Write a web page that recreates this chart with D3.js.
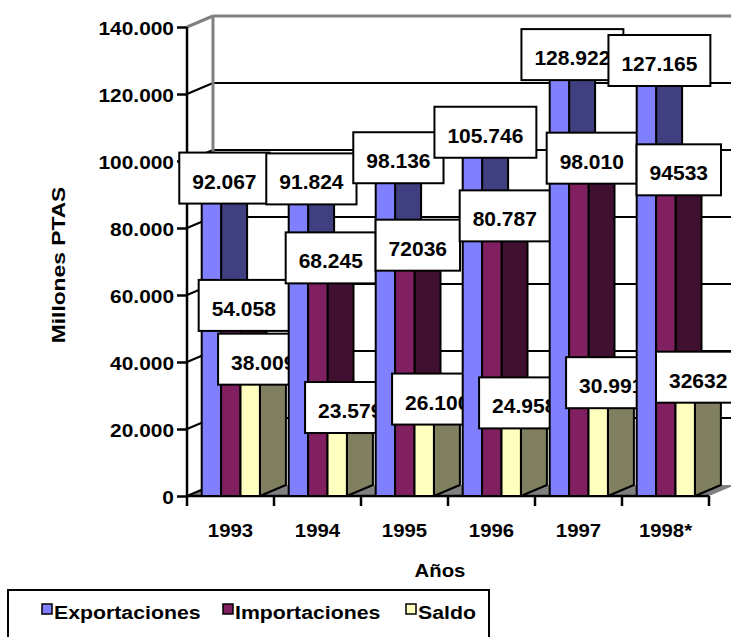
<!DOCTYPE html>
<html><head><meta charset="utf-8">
<script src="https://cdn.jsdelivr.net/npm/d3@7"></script>
<style>body{margin:0;background:#fff}svg{display:block}text{font-family:Arial,"Liberation Sans",Helvetica,sans-serif;font-weight:bold;fill:#000}</style>
</head><body><svg id="c" width="731" height="637"></svg>
<script>
const years = ["1993","1994","1995","1996","1997","1998*"];
const seriesNames = ["Exportaciones","Importaciones","Saldo"];
const exportaciones = [92067, 91824, 98136, 105746, 128922, 127165];
const importaciones = [54058, 68245, 72036, 80787, 98010, 94533];
const saldo = [38009, 23579, 26100, 24958, 30991, 32632];
const exportLabels = ["92.067","91.824","98.136","105.746","128.922","127.165"];
const importLabels = ["54.058","68.245","72036","80.787","98.010","94533"];
const saldoLabels = ["38.009","23.579","26.100","24.958","30.991","32632"];
const yTicks = [0,20000,40000,60000,80000,100000,120000,140000];
const yTickLabels = ["0","20.000","40.000","60.000","80.000","100.000","120.000","140.000"];

const frontColors = ["#8080FF","#802060","#FFFFC0"];
const sideColors = ["#404080","#401030","#808060"];
const topColors = ["#6060C0","#601848","#C0C090"];

const values = [exportaciones, importaciones, saldo];
const labels = [exportLabels, importLabels, saldoLabels];

const svg = d3.select("#c");
const DX = 26, DY = -11;
const x0 = 187, catW = 87;
const x = d3.scaleBand().domain(years).range([x0, x0 + catW*years.length]).paddingInner(0).paddingOuter(0);
const y = d3.scaleLinear().domain([0,140000]).range([496,27]);
const barOff = 14.7, barW = 19.4;

function stext(g, px, py, str, size, sx, anchor, rot){
  return g.append("text")
    .attr("transform", `translate(${px},${py})` + (rot?` rotate(${rot})`:"") + ` scale(${sx},1)`)
    .attr("font-size", size).attr("text-anchor", anchor||"start").text(str);
}

// floor
const xr = x.range();
svg.append("polygon").attr("points",[[xr[0],y(0)],[xr[1],y(0)],[xr[1]+DX,y(0)+DY],[xr[0]+DX,y(0)+DY]].map(p=>p.join(",")).join(" "))
  .attr("fill","#808080");

// back wall gridlines and side wall lines
const grid = svg.append("g");
yTicks.forEach(v=>{
  const top = v===140000;
  if (v>0) grid.append("line").attr("x1",xr[0]+DX).attr("x2",xr[1]+DX).attr("y1",y(v)+DY).attr("y2",y(v)+DY)
     .attr("stroke", top?"#808080":"#000").attr("stroke-width", top?3:2);
  grid.append("line").attr("x1",xr[0]).attr("x2",xr[0]+DX).attr("y1",y(v)).attr("y2",y(v)+DY)
     .attr("stroke", top?"#808080":"#000").attr("stroke-width", top?3:2);
});
grid.append("line").attr("x1",xr[0]+DX).attr("x2",xr[0]+DX).attr("y1",y(140000)+DY).attr("y2",y(0)+DY)
  .attr("stroke","#808080").attr("stroke-width",3);

// axes
const yAxis = d3.axisLeft(y).tickValues(yTicks).tickSize(10).tickFormat(()=>"");
const ya = svg.append("g").attr("transform",`translate(${xr[0]},0)`).call(yAxis);
ya.select(".domain").attr("stroke","#000").attr("stroke-width",2.5).attr("d",`M0,${y(140000)}V${y(0)}`);
ya.selectAll(".tick line").attr("stroke","#000").attr("stroke-width",2.5);
yTicks.forEach((v,i)=>{ stext(svg, 174, y(v)+7.5, yTickLabels[i], 19, 1.1, "end"); });

const xTickPos = d3.range(years.length+1).map(i=>xr[0]+i*catW);
svg.append("line").attr("x1",xr[0]).attr("x2",xr[1]).attr("y1",y(0)).attr("y2",y(0)).attr("stroke","#000").attr("stroke-width",2.5);
xTickPos.forEach(p=>svg.append("line").attr("x1",p).attr("x2",p).attr("y1",y(0)).attr("y2",y(0)+10).attr("stroke","#000").attr("stroke-width",2.5));
years.forEach(yr=>stext(svg, x(yr)+x.bandwidth()/2, 537, yr, 18.5, 1.1, "middle"));

stext(svg, 440, 577, "Años", 18.5, 1.1, "middle");
stext(svg, 65, 265, "Millones PTAS", 19, 1.2, "middle", -90);

// bars and labels per category
const bars = svg.append("g");
years.forEach((yr,i)=>{
  const g = bars.append("g");
  for (let j=0;j<3;j++){
    const v = values[j][i];
    const xl = x(yr)+barOff+j*barW, xrr = xl+barW, yt = y(v), yb = y(0);
    const pts = a=>a.map(p=>p.join(",")).join(" ");
    g.append("polygon").attr("points",pts([[xrr,yt],[xrr+DX,yt+DY],[xrr+DX,yb+DY],[xrr,yb]]))
      .attr("fill",sideColors[j]).attr("stroke","#000").attr("stroke-width",2).attr("stroke-linejoin","round");
    g.append("polygon").attr("points",pts([[xl,yt],[xl+DX,yt+DY],[xrr+DX,yt+DY],[xrr,yt]]))
      .attr("fill",topColors[j]).attr("stroke","#000").attr("stroke-width",2).attr("stroke-linejoin","round");
    g.append("rect").attr("x",xl).attr("y",yt).attr("width",barW).attr("height",yb-yt)
      .attr("fill",frontColors[j]).attr("stroke","#000").attr("stroke-width",2);
  }
  for (let j=0;j<3;j++){
    const v = values[j][i];
    const cx = x(yr)+barOff+j*barW+barW/2+DX/2;
    const cy = y(v)+DY/2-4;
    const lg = g.append("g");
    const t = lg.append("text").attr("x",cx).attr("y",cy+10.5).attr("font-size",21).attr("text-anchor","middle").text(labels[j][i]);
    const w = t.node().getComputedTextLength()+26;
    lg.insert("rect","text").attr("x",cx-w/2).attr("y",cy-25.5).attr("width",w).attr("height",51)
      .attr("fill","#fff").attr("stroke","#000").attr("stroke-width",2);
  }
});

// legend
const lg = svg.append("g");
lg.append("rect").attr("x",8).attr("y",590).attr("width",481).attr("height",70).attr("fill","#fff").attr("stroke","#000").attr("stroke-width",2);
const legX = [42, 223, 406];
seriesNames.forEach((n,j)=>{
  lg.append("rect").attr("x",legX[j]).attr("y",604).attr("width",10).attr("height",10).attr("fill",frontColors[j]).attr("stroke","#000").attr("stroke-width",1.5);
  stext(lg, legX[j]+12, 618.5, n, 19, 1.12, "start");
});
</script></body></html>
